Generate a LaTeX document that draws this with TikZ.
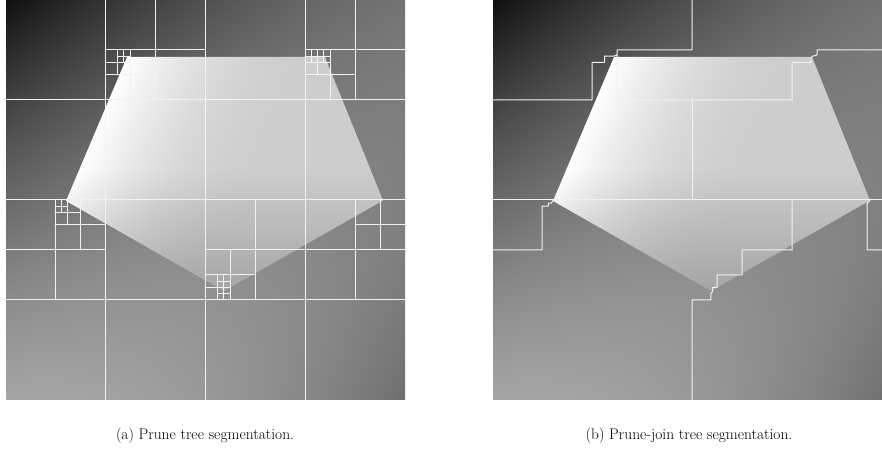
\documentclass[tikz,border=0pt]{standalone}
\usepackage{tikz}

% Backdrop of each panel: dark in the upper left corner, lighter below,
% a little darker again towards the right edge (grey level from s = x/400, t = depth/400).
\pgfdeclarefunctionalshading{backdrop}{\pgfpoint{0bp}{0bp}}{\pgfpoint{400bp}{400bp}}{}{
  400 div 1 exch sub exch 400 div exch
  1 index 1 index mul -155 mul
  2 index dup mul -60 mul add
  1 index dup mul -60 mul add
  1 index 210 mul add
  2 index 160 mul add
  15 add 255 div
  3 1 roll pop pop
  dup dup
}

% The bright pentagon: white along its upper left side, fading across to the
% right, and darker again towards the bottom tip.
\pgfdeclarefunctionalshading{plate}{\pgfpoint{0bp}{0bp}}{\pgfpoint{400bp}{400bp}}{}{
  400 exch sub
  dup 170 sub dup abs add 2 div 0.33 mul
  3 1 roll
  57 sub 0.39 mul exch 122 sub 0.92 mul add
  dup abs add 2 div 170 div
  1 exch sub dup abs add 2 div
  dup mul 1 exch sub
  50 mul add 255 exch sub 255 div
  dup dup
}

\tikzset{
  segline/.style={draw=white!95!black, line width=1bp, line join=round, line cap=round},
  caption/.style={font=\fontsize{15.5}{18}\selectfont, inner sep=0pt}
}

% one quadtree split of the square with corner (#1,#2) and side #3
\newcommand\qsplit[3]{%
  \draw[segline] ({#1+#3/2},{#2}) -- ++(0,{#3}) ({#1},{#2+#3/2}) -- ++({#3},0);}

% the pentagon and its backdrop, drawn in panel coordinates (origin top left, y down)
\newcommand\panelimage{%
  \node[inner sep=0pt, outer sep=0pt, anchor=north west] (back) at (0,0) {\pgfuseshading{backdrop}};
  \begin{scope}
    \clip (122,57) -- (320,57) -- (378,200.5) -- (219,291) -- (61,201) -- cycle;
    \node[inner sep=0pt, outer sep=0pt, anchor=north west] (shape) at (0,0) {\pgfuseshading{plate}};
  \end{scope}}

\begin{document}
\begin{tikzpicture}[x=1bp, y=1bp]
\useasboundingbox (0,0) rectangle (882,476);
\clip (0,0) rectangle (882,476);

% (a) prune tree: the leaves of the quadtree
\begin{scope}[shift={(5,476)}, y=-1bp]
  \panelimage
  \qsplit{0}{0}{400}
  \qsplit{0}{0}{200}\qsplit{200}{0}{200}\qsplit{0}{200}{200}\qsplit{200}{200}{200}
  \qsplit{100}{0}{100}\qsplit{300}{0}{100}\qsplit{0}{200}{100}\qsplit{200}{200}{100}\qsplit{300}{200}{100}
  \qsplit{100}{50}{50}\qsplit{300}{50}{50}\qsplit{50}{200}{50}\qsplit{200}{250}{50}\qsplit{350}{200}{50}
  \qsplit{100}{50}{25}\qsplit{300}{50}{25}\qsplit{50}{200}{25}\qsplit{200}{275}{25}
  \qsplit{112.5}{50}{12.5}\qsplit{300}{50}{12.5}\qsplit{312.5}{50}{12.5}
  \qsplit{50}{200}{12.5}\qsplit{212.5}{275}{12.5}\qsplit{212.5}{287.5}{12.5}
\end{scope}

% (b) prune-join tree: borders of the joined regions
\begin{scope}[shift={(492,476)}, y=-1bp]
  \panelimage
  \draw[segline] (200,0) -- (200,50) -- (125,50) -- (125,55) -- (121.5,56.25) -- (112.5,56.25)
    -- (112.5,62.5) -- (100,62.5) -- (100,100) -- (0,100);
  \draw[segline] (125,55) -- (125,100) -- (300,100) -- (300,62.5) -- (318.75,62.5) -- (318.75,58)
    -- (320.5,56.25) -- (325,55) -- (325,50) -- (400,50);
  \draw[segline] (200,100) -- (200,200);
  \draw[segline] (0,200) -- (400,200);
  \draw[segline] (0,250) -- (50,250) -- (50,206.25) -- (56.25,206.25) -- (56.25,203.1)
    -- (59.4,203.1) -- (61,200.5);
  \draw[segline] (200,400) -- (200,300) -- (218.75,300) -- (218.75,293.75) -- (220.5,291.5)
    -- (220.5,287.5) -- (225,287.5) -- (225,275) -- (250,275) -- (250,250) -- (300,250) -- (300,200);
  \draw[segline] (378,200.5) -- (375,203) -- (375,250) -- (400,250);
\end{scope}

\node[caption] (capA) at (205,40) {(a) Prune tree segmentation.};
\node[caption] (capB) at (689,40) {(b) Prune-join tree segmentation.};
\end{tikzpicture}
\end{document}
